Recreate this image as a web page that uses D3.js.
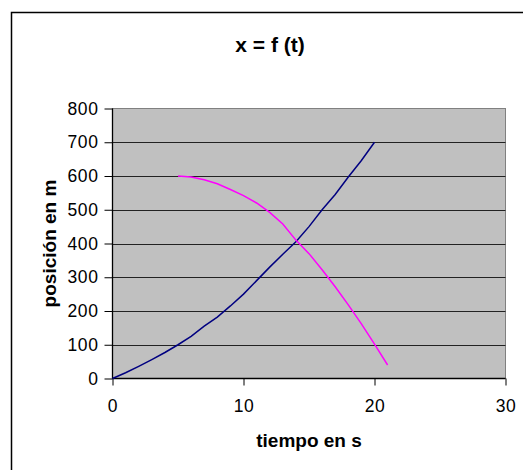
<!DOCTYPE html>
<html>
<head>
<meta charset="utf-8">
<script src="https://cdn.jsdelivr.net/npm/d3@7"></script>
<style>
  body { margin: 0; background: #fff; }
  text { font-family: "Liberation Sans", Arial, sans-serif; fill: #000; }
</style>
</head>
<body>
<svg id="chart" width="523" height="470"></svg>
<script>
// --- data ---
var blueT = [0, 1, 2, 3, 4, 5, 6, 7, 8, 9, 10, 11, 12, 13, 14, 15, 16, 17, 18, 19, 20];
var blueX = [0, 17, 36, 56, 77, 100, 125, 155, 182, 215, 250, 290, 330, 368, 405, 450, 500, 545, 597, 646, 700];
var pinkT = [5, 6, 7, 8, 9, 10, 11, 12, 13, 14, 15, 16, 17, 18, 19, 20, 21];
var pinkX = [600, 597, 589, 577, 560, 542, 520, 492, 458, 410, 370, 322, 272, 218, 162, 102, 40];
var xTicks = [0, 10, 20, 30];
var yTicks = [0, 100, 200, 300, 400, 500, 600, 700, 800];

var svg = d3.select("#chart");

/*========== frame ===========*/
svg.append("rect")
    .attr("x", 11.5).attr("y", 12.5)
    .attr("width", 540).attr("height", 500)
    .attr("fill", "#fff")
    .attr("stroke", "#000")
    .attr("stroke-width", 1.5);

var pLeft = 112.5, pRight = 505.5, pTop = 108.5, pBottom = 378.5;

var x = d3.scaleLinear().domain([0, 30]).range([pLeft, pRight]);
var y = d3.scaleLinear().domain([0, 800]).range([pBottom, pTop]);

/*========== plot area ===========*/
svg.append("rect")
    .attr("x", pLeft).attr("y", pTop)
    .attr("width", pRight - pLeft).attr("height", pBottom - pTop)
    .attr("fill", "#c0c0c0")
    .attr("stroke", "#808080")
    .attr("stroke-width", 1);

// gridlines
svg.append("g")
    .selectAll("line")
    .data(yTicks.filter(function (d) { return d > 0 && d < 800; }))
    .enter()
    .append("line")
    .attr("x1", pLeft).attr("x2", pRight)
    .attr("y1", function (d) { return Math.round(y(d)) + 0.5; })
    .attr("y2", function (d) { return Math.round(y(d)) + 0.5; })
    .attr("stroke", "#222")
    .attr("stroke-width", 1);

/*========== axes ===========*/
var xAxis = svg.append("g")
    .attr("transform", "translate(0," + pBottom + ")")
    .call(d3.axisBottom(x).tickValues(xTicks).tickSize(7).tickPadding(14));

var yAxis = svg.append("g")
    .attr("transform", "translate(" + pLeft + ",0)")
    .call(d3.axisLeft(y).tickValues(yTicks).tickSize(8).tickPadding(6));

[xAxis, yAxis].forEach(function (a) {
    a.select(".domain").attr("stroke", "#000").attr("stroke-width", 1.3);
    a.selectAll(".tick line").attr("stroke", "#000");
    a.selectAll(".tick text")
        .style("font-family", "'Liberation Sans', Arial, sans-serif")
        .style("font-size", "17.5px")
        .style("letter-spacing", "0.6px")
        .attr("fill", "#000");
});
xAxis.selectAll(".domain").attr("d", "M" + pLeft + ",0H" + pRight);
yAxis.selectAll(".domain").attr("d", "M0," + pBottom + "V" + pTop);

/*========== series ===========*/
var line = d3.line()
    .x(function (d) { return x(d[0]); })
    .y(function (d) { return y(d[1]); });

svg.append("path")
    .datum(blueT.map(function (t, i) { return [t, blueX[i]]; }))
    .attr("d", line)
    .attr("fill", "none")
    .attr("stroke", "#000080")
    .attr("stroke-width", 1.5);

svg.append("path")
    .datum(pinkT.map(function (t, i) { return [t, pinkX[i]]; }))
    .attr("d", line)
    .attr("fill", "none")
    .attr("stroke", "#ff00ff")
    .attr("stroke-width", 1.5);

/*========== titles ===========*/
svg.append("text")
    .attr("x", 270).attr("y", 52)
    .attr("text-anchor", "middle")
    .style("font-size", "21px")
    .style("font-weight", "bold")
    .text("x = f (t)");

svg.append("text")
    .attr("x", 309).attr("y", 447)
    .attr("text-anchor", "middle")
    .style("font-size", "19px")
    .style("font-weight", "bold")
    .text("tiempo en s");

svg.append("text")
    .attr("transform", "translate(56," + (pTop + pBottom) / 2 + ") rotate(-90)")
    .attr("text-anchor", "middle")
    .style("font-size", "19px")
    .style("font-weight", "bold")
    .text("posición en m");
</script>
</body>
</html>
